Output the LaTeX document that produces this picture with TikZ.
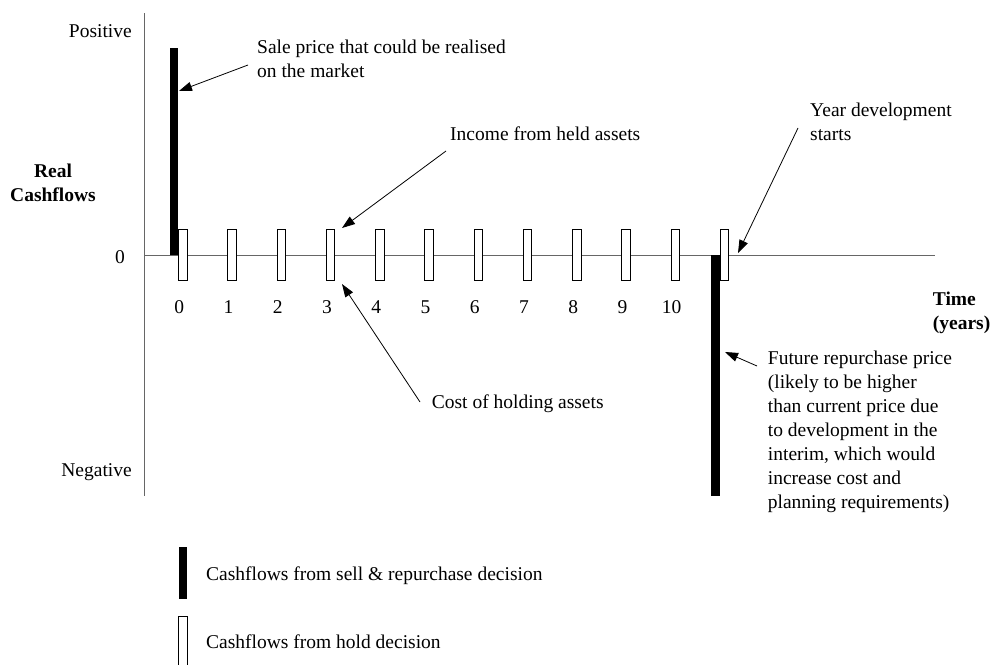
\documentclass[tikz,border=0pt]{standalone}
\usepackage{fontspec}
\setmainfont{Liberation Serif}
\usetikzlibrary{arrows.meta}
\begin{document}
\begin{tikzpicture}[x=1pt,y=-1pt,
  lbl/.style={font=\fontsize{19.5}{24}\selectfont, inner sep=0pt},
  blbl/.style={font=\fontsize{19.5}{24}\selectfont\bfseries, inner sep=0pt},
  axisline/.style={draw=black!60, line width=1pt},
  holdbar/.style={draw=black, fill=white, line width=0.9pt, minimum width=8.5pt, minimum height=51pt, inner sep=0pt},
  sellbar/.style={fill=black, inner sep=0pt, minimum width=8.5pt},
  pointer/.style={draw=black, line width=0.8pt, -{Triangle[length=13pt,width=9pt]}},
]
\useasboundingbox (0,0) rectangle (992,664);
\fill[white] (0,0) rectangle (992,664);

% axes
\coordinate (ytop) at (144,13);
\coordinate (ybot) at (144,496);
\coordinate (xo) at (144,255);
\coordinate (xend) at (935,255);
\draw[axisline] (ytop) -- (ybot);
\draw[axisline] (xo) -- (xend);

% axis labels
\node[lbl, anchor=base east] (pos) at (132,37.3) {Positive};
\node[lbl, anchor=base east] (neg) at (132,476.7) {Negative};
\node[lbl, anchor=base east] (zero) at (125,263) {0};
\node[blbl, align=center, anchor=north] (ylab) at (53,163.4) {Real\\Cashflows};
\node[blbl, align=left, anchor=north west] (xlab) at (932.7,291.7) {Time\\(years)};

% sell & repurchase bars
\node[sellbar, minimum height=207pt, anchor=south east] (sell0) at (178.3,255) {};
\node[sellbar, minimum height=241pt, anchor=north west] (sell1) at (711,255) {};

% hold bars and year labels
\foreach \i in {0,...,11} {
  \node[holdbar] (hold\i) at ({182.7+49.25*\i},254.5) {};
}
\foreach \i in {0,...,10} {
  \node[lbl, anchor=base] (yr\i) at ({179.2+49.25*\i},313) {\i};
}

% annotations
\node[lbl, align=left, anchor=north west] (sale) at (257,39.7) {Sale price that could be realised\\on the market};
\node[lbl, anchor=base west] (income) at (450,140) {Income from held assets};
\node[lbl, anchor=base west] (cost) at (431.7,408) {Cost of holding assets};
\node[lbl, align=left, anchor=north west] (yeardev) at (810,102.7) {Year development\\starts};
\node[lbl, align=left, anchor=north west] (future) at (767.7,350.4) {Future repurchase price\\(likely to be higher\\than current price due\\to development in the\\interim, which would\\increase cost and\\planning requirements)};

% arrows
\coordinate (saleS) at (248,65);
\coordinate (saleE) at (179,91);
\coordinate (incS) at (446,151);
\coordinate (incE) at (342,228);
\coordinate (costS) at (420,402);
\coordinate (costE) at (342,284);
\coordinate (yearS) at (798,128);
\coordinate (yearE) at (738,253);
\coordinate (futS) at (757,366);
\coordinate (futE) at (725,352);
\draw[pointer] (saleS) -- (saleE);
\draw[pointer] (incS) -- (incE);
\draw[pointer] (costS) -- (costE);
\draw[pointer] (yearS) -- (yearE);
\draw[pointer] (futS) -- (futE);

% legend
\node[sellbar, minimum height=52pt, anchor=north west] (legsell) at (178.3,547) {};
\node[holdbar, anchor=north west] (leghold) at (178,616) {};
\node[lbl, anchor=base west] (legselltxt) at (206,580) {Cashflows from sell \& repurchase decision};
\node[lbl, anchor=base west] (legholdtxt) at (206,648) {Cashflows from hold decision};
\end{tikzpicture}
\end{document}
